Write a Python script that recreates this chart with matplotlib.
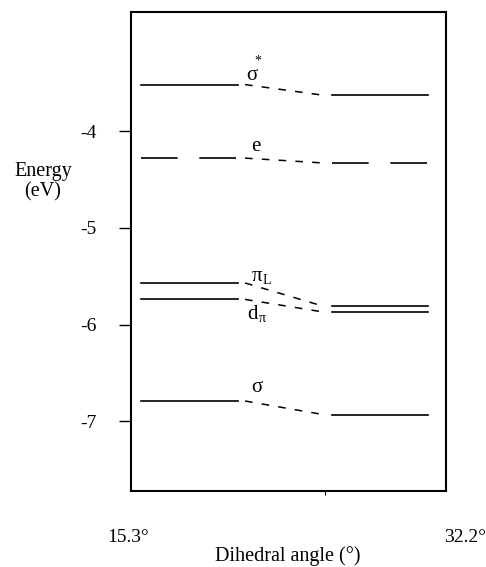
import matplotlib
matplotlib.use('Agg')
import matplotlib.pyplot as plt

# orbital levels (eV) at the two dihedral angles
labels = ['σ*', 'e', 'πL', 'dπ', 'σ']
e_left = [-3.52, -4.28, -5.57, -5.74, -6.79]
e_right = [-3.63, -4.33, -5.81, -5.87, -6.93]
styles = ['solid', 'long', 'solid', 'solid', 'solid']
angles = ['15.3°', '32.2°']
yticks = [-4, -5, -6, -7]

plt.rcParams['font.family'] = ['Liberation Serif', 'DejaVu Serif']

fig = plt.figure(figsize=(4.86, 5.67), dpi=100)
ax = fig.add_axes([131 / 486, 1 - 491 / 567, 315 / 486, 479 / 567])

# x positions of segments (arbitrary level-diagram units)
xl0, xl1 = 0.32, 3.40
xr0, xr1 = 6.38, 9.43

for a, b, st in zip(e_left, e_right, styles):
    if st == 'long':
        ls = (0, (22, 13))
    else:
        ls = '-'
    ax.plot([xl0, xl1], [a, a], color='black', lw=1.2, linestyle=ls)
    ax.plot([xr0, xr1], [b, b], color='black', lw=1.2, linestyle=ls)
    ax.plot([xl1 + 0.22, xr0 - 0.28], [a, b], color='black', lw=1.1,
            linestyle=(0, (5, 6)))

# level labels: main char + small super/subscript
lab_pos = [(3.84, -3.43), (3.97, -4.165), (4.0, -5.505), (3.87, -5.897), (4.0, -6.65)]
sub_off = [(4, 11), None, (7, -3), (7, -3), None]
for lab, (x, y), off in zip(labels, lab_pos, sub_off):
    ax.text(x, y, lab[0], fontsize=15, ha='center', va='center')
    if off is not None:
        ax.annotate(lab[1], (x, y), xytext=off, textcoords='offset points',
                    fontsize=10, ha='center', va='center')

ax.set_xlim(0, 10)
ax.set_ylim(-7.72, -2.77)
ax.set_yticks(yticks)
ax.set_yticklabels([str(t) for t in yticks], fontsize=14)
ax.tick_params(axis='y', direction='out', length=9, width=1, pad=16)
ax.set_xticks([6.15])
ax.set_xticklabels([''])
ax.tick_params(axis='x', direction='out', length=3, width=0.8)
for s in ax.spines.values():
    s.set_linewidth(1.5)

ax.text(-0.1, -8.2, angles[0], fontsize=14, ha='center', va='center')
ax.text(10.6, -8.2, angles[1], fontsize=14, ha='center', va='center')
fig.text(288 / 486, 1 - 556 / 567, 'Dihedral angle (°)', fontsize=14.5,
         ha='center', va='center')
fig.text(43 / 486, 1 - 182 / 567, 'Energy\n(eV)', fontsize=14.5,
         ha='center', va='center', linespacing=1.1)

fig.savefig('out.png', dpi=100)
